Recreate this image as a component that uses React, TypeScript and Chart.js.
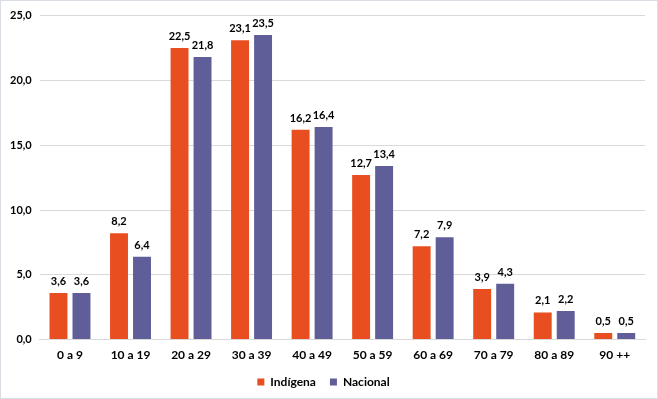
import React, { useEffect, useRef } from "react";
import { Chart, registerables } from "chart.js";

Chart.register(...registerables);

const categories = ["0 a 9", "10 a 19", "20 a 29", "30 a 39", "40 a 49", "50 a 59", "60 a 69", "70 a 79", "80 a 89", "90 ++"];
const indigena = [3.6, 8.2, 22.5, 23.1, 16.2, 12.7, 7.2, 3.9, 2.1, 0.5];
const nacional = [3.6, 6.4, 21.8, 23.5, 16.4, 13.4, 7.9, 4.3, 2.2, 0.5];
const seriesNames = ["Indígena", "Nacional"];
const yTicks = [0, 5, 10, 15, 20, 25];

const FONT = "Lato, 'Open Sans', sans-serif";
const fmt = (v: number) => v.toFixed(1).replace(".", ",");

const valueLabels = {
  id: "valueLabels",
  afterDatasetsDraw(chart: any) {
    const ctx = chart.ctx;
    ctx.save();
    ctx.font = `bold 11px ${FONT}`;
    ctx.fillStyle = "#000";
    ctx.textAlign = "center";
    ctx.textBaseline = "bottom";
    chart.data.datasets.forEach((ds: any, i: number) => {
      const meta = chart.getDatasetMeta(i);
      meta.data.forEach((bar: any, j: number) => {
        ctx.fillText(fmt(ds.data[j]), bar.x, bar.y - 6);
      });
    });
    ctx.restore();
  },
};

export default function App() {
  const ref = useRef<HTMLCanvasElement>(null);
  useEffect(() => {
    document.body.style.margin = "0";
    const chart = new Chart(ref.current!, {
      type: "bar",
      data: {
        labels: categories,
        datasets: [
          { label: seriesNames[0], data: indigena, backgroundColor: "#E84E1F" },
          { label: seriesNames[1], data: nacional, backgroundColor: "#5F5E99" },
        ],
      },
      options: {
        animation: false,
        responsive: false,
        maintainAspectRatio: false,
        datasets: { bar: { barPercentage: 0.78, categoryPercentage: 0.76 } },
        layout: { padding: { top: 4, right: 12, left: 1, bottom: 0 } },
        scales: {
          x: {
            grid: { display: false },
            border: { display: true, color: "#d9d9d9" },
            ticks: { color: "#000", font: { family: FONT, size: 12, weight: "bold" }, padding: 0 },
          },
          y: {
            min: 0,
            max: 25,
            afterBuildTicks: (axis: any) => {
              axis.ticks = yTicks.map((v) => ({ value: v }));
            },
            grid: { color: "#d9d9d9", drawTicks: false },
            border: { display: false },
            ticks: {
              color: "#000",
              font: { family: FONT, size: 11, weight: "bold" },
              padding: 8,
              callback: (v: any) => fmt(Number(v)),
            },
          },
        },
        plugins: {
          legend: {
            position: "bottom",
            labels: {
              boxWidth: 7,
              boxHeight: 7,
              padding: 14,
              color: "#000",
              font: { family: FONT, size: 12, weight: "bold" },
            },
          },
          tooltip: { enabled: false },
        },
      },
      plugins: [valueLabels],
    });
    return () => chart.destroy();
  }, []);
  return (
    <div style={{ width: 658, height: 399, boxSizing: "border-box", border: "1px solid #d9dee5", background: "#fff" }}>
      <canvas ref={ref} width={656} height={397} style={{ display: "block" }} />
    </div>
  );
}
